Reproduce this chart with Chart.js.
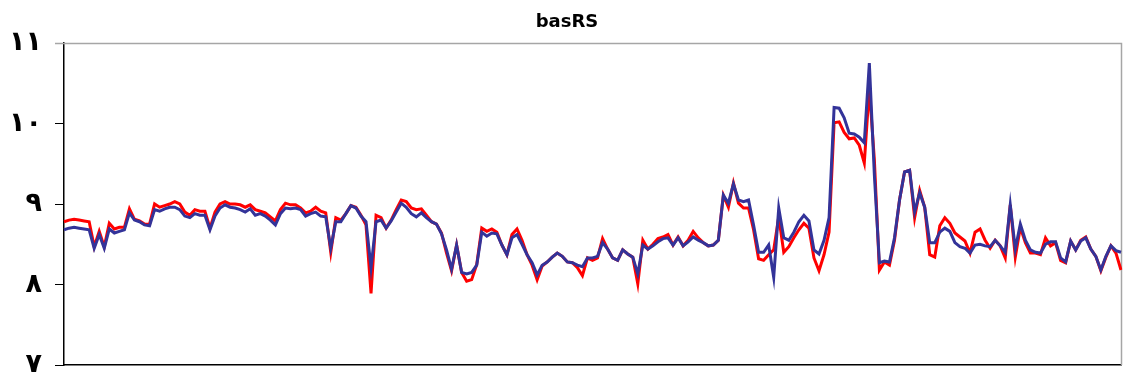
<!DOCTYPE html>
<html>
<head>
<meta charset="utf-8">
<script src="https://cdn.jsdelivr.net/npm/chart.js@4/dist/chart.umd.min.js"></script>
<style>
  html, body { margin: 0; padding: 0; background: #ffffff; }
  #wrap { width: 1127px; height: 377px; position: relative; }
</style>
</head>
<body>
<div id="wrap"><canvas id="c" width="1127" height="377"></canvas></div>
<script>
// basRS: two series over the same periods
const chartTitle = 'basRS';

const redSeries = [
  8.78, 8.80, 8.81, 8.80, 8.79, 8.78, 8.47, 8.66, 8.47, 8.76,
  8.69, 8.71, 8.71, 8.94, 8.81, 8.79, 8.75, 8.75, 9.00, 8.96,
  8.98, 9.00, 9.03, 9.00, 8.90, 8.86, 8.93, 8.91, 8.91, 8.70,
  8.90, 9.00, 9.03, 9.00, 9.00, 8.99, 8.96, 8.99, 8.93, 8.91,
  8.89, 8.84, 8.79, 8.93, 9.01, 8.99, 8.99, 8.95, 8.89, 8.91,
  8.96, 8.91, 8.89, 8.40, 8.83, 8.80, 8.88, 8.98, 8.96, 8.86,
  8.74, 7.89, 8.86, 8.83, 8.70, 8.80, 8.93, 9.05, 9.03, 8.95,
  8.93, 8.94, 8.86, 8.78, 8.75, 8.64, 8.39, 8.17, 8.49, 8.15,
  8.04, 8.06, 8.25, 8.70, 8.66, 8.69, 8.65, 8.49, 8.37, 8.62,
  8.69, 8.55, 8.37, 8.24, 8.06, 8.23, 8.28, 8.34, 8.39, 8.35,
  8.28, 8.27, 8.21, 8.11, 8.33, 8.30, 8.33, 8.57, 8.44, 8.33,
  8.30, 8.43, 8.38, 8.34, 8.01, 8.55, 8.44, 8.50, 8.57, 8.59,
  8.62, 8.49, 8.59, 8.48, 8.55, 8.66, 8.58, 8.52, 8.48, 8.49,
  8.55, 9.11, 8.96, 9.26, 9.01, 8.95, 8.95, 8.68, 8.32, 8.30,
  8.37, 8.43, 8.84, 8.40, 8.47, 8.58, 8.68, 8.76, 8.70, 8.33,
  8.17, 8.37, 8.65, 10.01, 10.02, 9.89, 9.81, 9.82, 9.73, 9.51,
  10.44, 9.55, 8.18, 8.28, 8.24, 8.55, 9.05, 9.40, 9.42, 8.83,
  9.17, 8.96, 8.37, 8.34, 8.73, 8.83, 8.76, 8.64, 8.59, 8.54,
  8.39, 8.65, 8.69, 8.55, 8.45, 8.55, 8.48, 8.33, 8.99, 8.34,
  8.71, 8.52, 8.39, 8.39, 8.37, 8.58, 8.48, 8.52, 8.30, 8.27,
  8.54, 8.43, 8.55, 8.59, 8.44, 8.35, 8.17, 8.34, 8.48, 8.39,
  8.18
];

const blueSeries = [
  8.68, 8.70, 8.71, 8.70, 8.69, 8.68, 8.45, 8.62, 8.45, 8.69,
  8.64, 8.66, 8.68, 8.89, 8.80, 8.78, 8.74, 8.73, 8.93, 8.91,
  8.94, 8.96, 8.96, 8.93, 8.85, 8.83, 8.88, 8.86, 8.86, 8.68,
  8.85, 8.95, 8.99, 8.96, 8.95, 8.93, 8.90, 8.94, 8.86, 8.88,
  8.85, 8.80, 8.74, 8.88, 8.95, 8.94, 8.95, 8.93, 8.85, 8.88,
  8.90, 8.85, 8.84, 8.45, 8.78, 8.78, 8.88, 8.98, 8.95, 8.85,
  8.78, 8.21, 8.78, 8.80, 8.70, 8.79, 8.90, 9.01, 8.96, 8.88,
  8.84, 8.89, 8.83, 8.78, 8.75, 8.63, 8.43, 8.19, 8.49, 8.15,
  8.13, 8.15, 8.24, 8.65, 8.60, 8.64, 8.63, 8.49, 8.37, 8.58,
  8.62, 8.50, 8.37, 8.27, 8.12, 8.24, 8.28, 8.34, 8.39, 8.35,
  8.28, 8.27, 8.24, 8.22, 8.33, 8.33, 8.35, 8.52, 8.44, 8.33,
  8.30, 8.43, 8.38, 8.34, 8.13, 8.49, 8.44, 8.48, 8.53, 8.57,
  8.58, 8.49, 8.58, 8.48, 8.53, 8.59, 8.55, 8.52, 8.48, 8.49,
  8.55, 9.11, 9.01, 9.25, 9.05, 9.03, 9.05, 8.74, 8.40, 8.40,
  8.49, 8.09, 8.95, 8.58, 8.55, 8.65, 8.78, 8.86, 8.79, 8.43,
  8.38, 8.55, 8.83, 10.20, 10.19, 10.07, 9.88, 9.87, 9.83, 9.76,
  10.75, 9.36, 8.27, 8.29, 8.28, 8.58, 9.05, 9.40, 9.42, 8.90,
  9.14, 8.96, 8.52, 8.52, 8.65, 8.70, 8.66, 8.52, 8.47, 8.45,
  8.39, 8.49, 8.50, 8.48, 8.47, 8.55, 8.48, 8.40, 8.99, 8.44,
  8.75, 8.55, 8.43, 8.40, 8.39, 8.50, 8.53, 8.53, 8.33, 8.28,
  8.54, 8.43, 8.54, 8.58, 8.44, 8.35, 8.18, 8.35, 8.48, 8.42,
  8.40
];

// value axis: 7 .. 11 in Arabic-Indic digits
const yTickValues = [7, 8, 9, 10, 11];
const yTickLabels = ['٧', '٨', '٩', '١٠', '١١'];

const periods = Array.from({ length: redSeries.length }, (_, i) => i + 1);

// grey frame on the top and right of the plot area
const plotFrame = {
  id: 'plotFrame',
  beforeDatasetsDraw(chart) {
    const { ctx, chartArea: a } = chart;
    ctx.save();
    ctx.strokeStyle = '#a6a6a6';
    ctx.lineWidth = 1.5;
    ctx.beginPath();
    ctx.moveTo(a.left - 9, a.top + 0.5);
    ctx.lineTo(a.right + 0.5, a.top + 0.5);
    ctx.lineTo(a.right + 0.5, a.bottom);
    ctx.stroke();
    ctx.restore();
  }
};

// title centred above the plot
const titleText = {
  id: 'titleText',
  afterDraw(chart) {
    const { ctx } = chart;
    ctx.save();
    ctx.font = 'bold 18px "DejaVu Sans"';
    ctx.fillStyle = '#000000';
    ctx.textAlign = 'center';
    ctx.textBaseline = 'middle';
    ctx.fillText(chartTitle, 567, 22);
    ctx.restore();
  }
};

new Chart(document.getElementById('c'), {
  type: 'line',
  data: {
    labels: periods,
    datasets: [
      {
        label: 'blue',
        data: blueSeries,
        borderColor: '#333399',
        borderWidth: 3,
        pointRadius: 0,
        tension: 0,
        fill: false
      },
      {
        label: 'red',
        data: redSeries,
        borderColor: '#ff0000',
        borderWidth: 3,
        pointRadius: 0,
        tension: 0,
        fill: false
      }
    ]
  },
  options: {
    responsive: false,
    animation: false,
    devicePixelRatio: 1,
    layout: { padding: { top: 43, right: 6, bottom: 12, left: 0 } },
    plugins: {
      legend: { display: false },
      tooltip: { enabled: false },
      title: { display: false }
    },
    scales: {
      x: {
        type: 'category',
        offset: false,
        ticks: { display: false },
        grid: { display: false, drawTicks: false },
        border: { display: true, color: '#000000', width: 1.5 },
        afterFit(scale) {
          scale.height = 0;
          scale.paddingLeft = 0;
          scale.paddingRight = 0;
        }
      },
      y: {
        min: 7,
        max: 11,
        afterBuildTicks(scale) {
          scale.ticks = yTickValues.map(v => ({ value: v }));
        },
        ticks: {
          padding: 13,
          color: '#000000',
          font: { family: '"DejaVu Sans"', size: 27, weight: 'bold' },
          callback: (value) => yTickLabels[yTickValues.indexOf(value)]
        },
        grid: {
          drawOnChartArea: false,
          drawTicks: true,
          tickLength: 9,
          color: '#000000'
        },
        border: { display: true, color: '#000000', width: 1.5 },
        afterFit(scale) {
          scale.width = 64;
          scale.paddingTop = 0;
          scale.paddingBottom = 0;
        }
      }
    }
  },
  plugins: [plotFrame, titleText]
});
</script>
</body>
</html>
